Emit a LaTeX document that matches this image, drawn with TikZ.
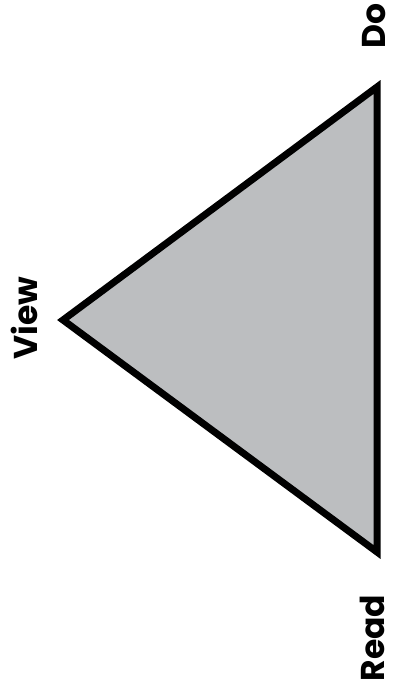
\documentclass[tikz,border=0pt]{standalone}
\usepackage{fontspec}
\setmainfont{Poppins}[BoldFont={* Bold}]
\definecolor{trifill}{HTML}{BCBEC0}
\begin{document}
\begin{tikzpicture}[x=1pt,y=-1pt,
  lbl/.style={rotate=90,inner sep=0pt,font=\fontsize{33}{33}\selectfont\bfseries}]
\useasboundingbox (0,0) rectangle (392,690);
\coordinate (top) at (377,87);
\coordinate (left) at (63,320);
\coordinate (bot) at (377,552);
\draw[line width=7pt,line join=miter,fill=trifill] (top) -- (left) -- (bot) -- cycle;
\node[lbl] (do) at (374,26) {Do};
\node[lbl] (view) at (24,318) {View};
\node[lbl] (read) at (372,638) {Read};
\end{tikzpicture}
\end{document}
